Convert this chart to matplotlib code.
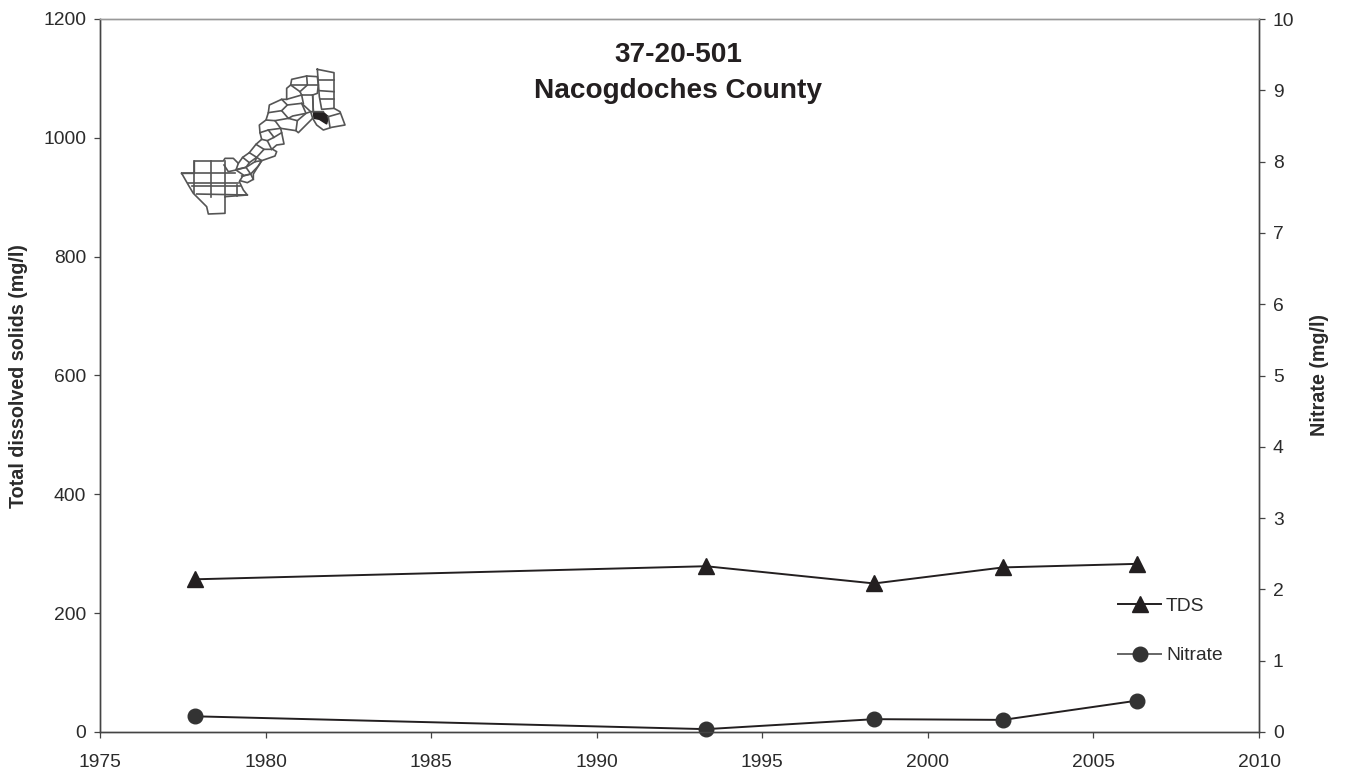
import matplotlib
matplotlib.use('Agg')
import matplotlib.pyplot as plt

plt.rcParams['font.family'] = ['Liberation Sans', 'DejaVu Sans']

years = [1977.87, 1993.3, 1998.38, 2002.27, 2006.32]
tds = [257, 279, 250, 277, 283]
nitrate = [0.22, 0.04, 0.18, 0.17, 0.44]
x_ticks = list(range(1975, 2011, 5))
tds_ticks = list(range(0, 1201, 200))
nitrate_ticks = list(range(0, 11))
title_text = '37-20-501\nNacogdoches County'

# Locator-map sketch, in reference zoom-crop units (decoration, not data)
map_cells = [
    # south-west block
    [(65,370),(103,370),(103,333),(190,333),(195,325),(220,325),(235,340),(228,360),(250,375),(238,395),(250,420),(262,435),(195,440),(195,490),(145,492),(140,470),(120,450),(100,430),(85,405),(65,370)],
    [(103,333),(103,430)], [(153,333),(153,440)], [(195,333),(195,440)], [(232,405),(232,438)],
    [(70,370),(225,370)], [(85,398),(235,398)], [(95,408),(240,408)], [(110,432),(262,435)],
    # chain
    [(192,345),(205,365),(228,360)],
    [(235,340),(248,322),(268,338),(258,352),(230,358)],
    [(228,360),(258,352),(272,372),(250,378)],
    [(245,378),(272,372),(280,388),(262,398),(240,392)],
    [(258,352),(285,335),(305,332),(295,348),(272,372)],
    [(248,322),(268,308),(290,322),(268,338)],
    [(268,308),(288,283),(312,298),(290,322),(285,335)],
    [(290,322),(305,332),(345,318),(350,305),(338,298),(312,298)],
    [(288,283),(305,268),(322,272),(335,298)],
    [(305,332),(295,348),(280,372),(280,388)],
    [(305,268),(300,248),(325,240),(342,262),(322,272)],
    [(342,262),(365,248),(372,282),(350,285),(335,298)],
    [(325,240),(362,235),(365,248)],
    [(300,248),(298,225),(318,210),(345,212),(362,235)],
    [(318,210),(325,188),(365,182),(385,205),(345,212)],
    [(325,188),(328,165),(365,148),(382,165),(365,182)],
    [(362,235),(408,242),(412,212),(385,205)],
    [(382,165),(425,160),(438,190),(398,198),(385,205)],
    [(412,212),(438,190),(452,185),(458,205),(415,248),(408,242)],
    [(365,148),(380,148),(425,135),(458,135),(460,185),(452,185),(425,160)],
    [(425,135),(430,160)],
    [(380,148),(380,115),(392,105),(420,125),(425,135)],
    [(392,105),(395,88),(440,78),(472,80),(475,105),(472,130),(458,135)],
    [(440,78),(442,105),(420,125)], [(442,105),(475,105)], [(392,105),(442,105)],
    [(472,58),(522,68),(522,175),(485,178),(478,140),(472,58)],
    [(475,90),(522,90)], [(478,122),(522,125)], [(480,148),(522,148)],
    [(458,135),(460,185),(490,185)],
    [(522,175),(540,185),(555,225),(515,232),(490,240),(470,225),(458,205)],
    [(505,200),(510,232)], [(505,200),(540,190)],
]
map_fill = [(460,185),(490,187),(505,200),(500,222),(478,208),(462,205)]

fig = plt.figure(figsize=(13.46, 7.77), dpi=100)
W, H = 1346, 777
ax = fig.add_axes([100/W, 1-732/H, 1159/W, 713/H])
ax2 = ax.twinx()
dark = '#2b2b2b'

l1, = ax.plot(years, tds, color='#231f20', lw=1.4, marker='^', ms=11.5, label='TDS', clip_on=False)
l2, = ax2.plot(years, nitrate, color='#231f20', lw=1.4, marker='o', ms=10.5, mfc='#333333', mec='#333333', label='Nitrate', clip_on=False)

ax.set_xlim(1975, 2010)
ax.set_ylim(0, 1200)
ax2.set_ylim(0, 10)
ax.set_xticks(x_ticks)
ax.set_yticks(tds_ticks)
ax2.set_yticks(nitrate_ticks)
for a in (ax, ax2):
    for s in a.spines.values():
        s.set_color('#444444')
        s.set_linewidth(1.0)
    a.spines['top'].set_color('#999999')
    a.tick_params(axis='both', direction='out', length=4.5, width=0.9, color='#444444',
                  labelsize=13.9, labelcolor=dark, pad=5.5)
ax.tick_params(axis='x', pad=11)
ax.set_ylabel('Total dissolved solids (mg/l)', fontsize=14.2, fontweight='bold', color=dark)
ax.yaxis.set_label_coords((28-100)/1159, (732-376)/713, transform=ax.transAxes)
ax2.set_ylabel('Nitrate (mg/l)', fontsize=14.2, fontweight='bold', color=dark)
ax2.yaxis.set_label_coords((1310-100)/1159, (732-375)/713, transform=ax2.transAxes)
ax.text(678/W, 1-73/H, title_text, transform=fig.transFigure, ha='center', va='center',
        fontsize=20.2, fontweight='bold', color='#231f20', linespacing=1.45)

leg = ax.legend([l1, l2], ['TDS', 'Nitrate'], loc='upper left',
                bbox_to_anchor=(1118/W, 1-597/H), bbox_transform=fig.transFigure,
                frameon=False, fontsize=13.9, labelspacing=1.67, handlelength=2.23,
                handletextpad=0.26, borderpad=0, borderaxespad=0, labelcolor=dark,
                numpoints=1)
leg.set_zorder(10)
leg.legend_handles[1].set_color('#666666')
leg.legend_handles[1].set_markerfacecolor('#333333')
leg.legend_handles[1].set_markeredgecolor('#333333')

mp = fig.add_axes([160/W, 1-230/H, 210/W, 180/H], zorder=5)
mp.set_xlim(0, 630); mp.set_ylim(540, 0); mp.axis('off'); mp.patch.set_alpha(0)
for c in map_cells:
    mp.plot([p[0] for p in c], [p[1] for p in c], color='#555555', lw=1.2, solid_joinstyle='round')
mp.fill([p[0] for p in map_fill], [p[1] for p in map_fill], color='#231f20')

fig.savefig('out.png', dpi=100)
